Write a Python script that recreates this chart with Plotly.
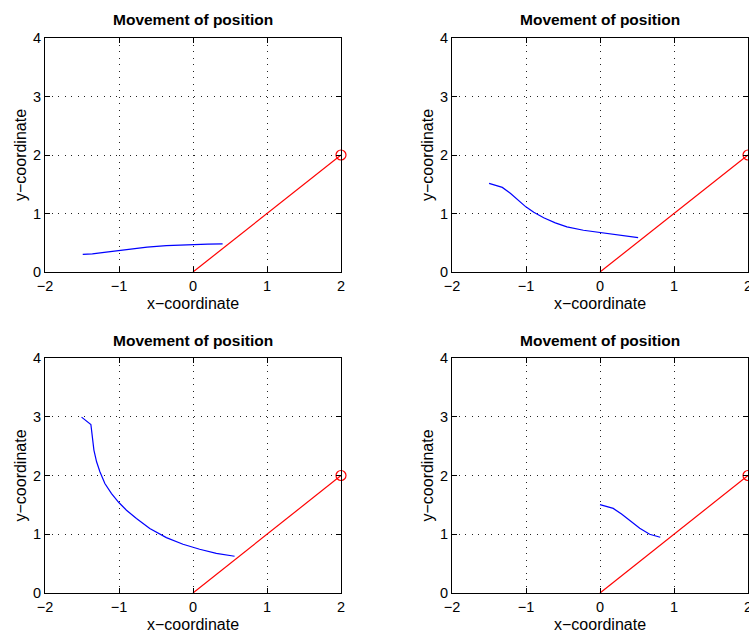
import plotly.graph_objects as go

# ---- data ----
x_ticks = [-2, -1, 0, 1, 2]
y_ticks = [0, 1, 2, 3, 4]
tick_text_x = ["\u22122", "\u22121", "0", "1", "2"]

red_x = [0, 2]
red_y = [0, 2]
target_x = [2]
target_y = [2]

blue1_x = [-1.49, -1.36, -1.2, -1.0, -0.8, -0.62, -0.36, -0.15, 0.0, 0.2, 0.4]
blue1_y = [0.30, 0.31, 0.335, 0.37, 0.40, 0.425, 0.45, 0.462, 0.47, 0.475, 0.48]

blue2_x = [-1.499, -1.32, -1.208, -1.096, -1.002, -0.895, -0.761, -0.604, -0.447, -0.224, 0.0, 0.268, 0.515]
blue2_y = [1.514, 1.446, 1.343, 1.211, 1.114, 1.023, 0.926, 0.840, 0.771, 0.714, 0.674, 0.629, 0.589]

blue3_x = [-1.506, -1.38, -1.371, -1.362, -1.339, -1.303, -1.258, -1.191, -1.101, -1.002,
           -0.899, -0.764, -0.584, -0.36, -0.135, 0.09, 0.315, 0.562]
blue3_y = [2.994, 2.869, 2.773, 2.659, 2.432, 2.233, 2.063, 1.864, 1.693, 1.540,
           1.409, 1.267, 1.097, 0.943, 0.830, 0.744, 0.676, 0.625]

blue4_x = [0.0, 0.179, 0.291, 0.403, 0.537, 0.671, 0.814]
blue4_y = [1.503, 1.44, 1.343, 1.229, 1.103, 1.0, 0.949]

blues = [(blue1_x, blue1_y), (blue2_x, blue2_y), (blue3_x, blue3_y), (blue4_x, blue4_y)]
title_text = "Movement of position"
xlabel = "x\u2212coordinate"
ylabel = "y\u2212coordinate"

W, H = 749, 631
# pixel boxes: (left, right, top, bottom)
boxes = [(45, 341, 38, 272), (452, 748, 38, 272), (45, 341, 358, 593), (452, 748, 358, 593)]

FONT = "Liberation Sans, Arial, Helvetica, sans-serif"

fig = go.Figure()
layout = dict(width=W, height=H, margin=dict(l=0, r=0, t=0, b=0, autoexpand=False),
              paper_bgcolor="white", plot_bgcolor="white", showlegend=False,
              font=dict(family=FONT, color="black", size=14))
annotations = []

for i, ((bx, by), (l, r, t, b)) in enumerate(zip(blues, boxes)):
    n = "" if i == 0 else str(i + 1)
    xa, ya = "x" + n, "y" + n
    fig.add_trace(go.Scatter(x=bx, y=by, mode="lines", line=dict(color="blue", width=1.2),
                             xaxis=xa, yaxis=ya, hoverinfo="skip"))
    fig.add_trace(go.Scatter(x=red_x, y=red_y, mode="lines", line=dict(color="red", width=1.2),
                             xaxis=xa, yaxis=ya, hoverinfo="skip"))
    fig.add_trace(go.Scatter(x=target_x, y=target_y, mode="markers",
                             marker=dict(symbol="circle-open", size=10, color="red",
                                         line=dict(width=1.2, color="red")),
                             cliponaxis=False, xaxis=xa, yaxis=ya, hoverinfo="skip"))
    common = dict(showline=True, linecolor="black", linewidth=1.2, mirror="ticks",
                  ticks="inside", ticklen=5, tickcolor="black", showgrid=True,
                  gridcolor="#222", gridwidth=1, griddash="1px,5.5px", zeroline=False,
                  automargin=False, ticklabeloverflow="allow",
                  tickfont=dict(family=FONT, size=14.5, color="black"))
    layout["xaxis" + n] = dict(common, domain=[l / W, r / W], range=[-2, 2],
                               tickvals=x_ticks, ticktext=tick_text_x, anchor=ya)
    layout["yaxis" + n] = dict(common, domain=[1 - b / H, 1 - t / H], range=[0, 4],
                               tickvals=y_ticks, anchor=xa)
    cx = (l + r) / 2
    cy = (t + b) / 2
    annotations.append(dict(text="<b>" + title_text + "</b>", x=cx / W, y=1 - (t - 18) / H,
                            xref="paper", yref="paper", showarrow=False,
                            xanchor="center", yanchor="middle",
                            font=dict(family=FONT, size=15.5, color="black")))
    annotations.append(dict(text=xlabel, x=cx / W, y=1 - (b + 31) / H,
                            xref="paper", yref="paper", showarrow=False,
                            xanchor="center", yanchor="middle",
                            font=dict(family=FONT, size=16, color="black")))
    annotations.append(dict(text=ylabel, x=(l - 25) / W, y=1 - cy / H, textangle=-90,
                            xref="paper", yref="paper", showarrow=False,
                            xanchor="center", yanchor="middle",
                            font=dict(family=FONT, size=16, color="black")))

layout["annotations"] = annotations
fig.update_layout(**layout)
fig.write_html("out.html")
